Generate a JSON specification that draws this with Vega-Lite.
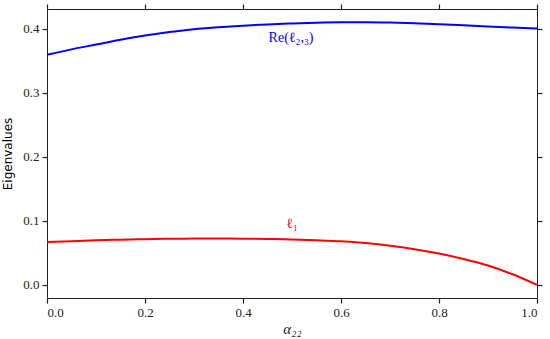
{
  "$schema": "https://vega.github.io/schema/vega-lite/v6.json",
  "width": 490,
  "height": 289,
  "autosize": {"type": "none"},
  "padding": {"left": 47, "top": 9, "right": 13, "bottom": 41},
  "config": {
    "view": {"stroke": "#222222", "strokeWidth": 1}
  },
  "datasets": {
    "curves": [
      {"x": 0.0, "y": 0.359, "s": "re"}, {"x": 0.05, "y": 0.3675, "s": "re"}, {"x": 0.1, "y": 0.375, "s": "re"},
      {"x": 0.15, "y": 0.3825, "s": "re"}, {"x": 0.2, "y": 0.389, "s": "re"}, {"x": 0.25, "y": 0.3945, "s": "re"},
      {"x": 0.3, "y": 0.399, "s": "re"}, {"x": 0.35, "y": 0.402, "s": "re"}, {"x": 0.4, "y": 0.4045, "s": "re"},
      {"x": 0.45, "y": 0.4065, "s": "re"}, {"x": 0.5, "y": 0.408, "s": "re"}, {"x": 0.55, "y": 0.4092, "s": "re"},
      {"x": 0.6, "y": 0.4098, "s": "re"}, {"x": 0.65, "y": 0.4098, "s": "re"}, {"x": 0.7, "y": 0.4093, "s": "re"},
      {"x": 0.75, "y": 0.4083, "s": "re"}, {"x": 0.8, "y": 0.4068, "s": "re"}, {"x": 0.85, "y": 0.405, "s": "re"},
      {"x": 0.9, "y": 0.4032, "s": "re"}, {"x": 0.95, "y": 0.4015, "s": "re"}, {"x": 1.0, "y": 0.4, "s": "re"},
      {"x": 0.0, "y": 0.0667, "s": "l1"}, {"x": 0.05, "y": 0.0682, "s": "l1"}, {"x": 0.1, "y": 0.0695, "s": "l1"},
      {"x": 0.15, "y": 0.0705, "s": "l1"}, {"x": 0.2, "y": 0.0713, "s": "l1"}, {"x": 0.25, "y": 0.0719, "s": "l1"},
      {"x": 0.3, "y": 0.0722, "s": "l1"}, {"x": 0.35, "y": 0.0723, "s": "l1"}, {"x": 0.4, "y": 0.0721, "s": "l1"},
      {"x": 0.45, "y": 0.0716, "s": "l1"}, {"x": 0.5, "y": 0.0708, "s": "l1"}, {"x": 0.55, "y": 0.0696, "s": "l1"},
      {"x": 0.6, "y": 0.068, "s": "l1"}, {"x": 0.65, "y": 0.0652, "s": "l1"}, {"x": 0.7, "y": 0.0612, "s": "l1"},
      {"x": 0.75, "y": 0.0557, "s": "l1"}, {"x": 0.8, "y": 0.0488, "s": "l1"}, {"x": 0.85, "y": 0.0404, "s": "l1"},
      {"x": 0.9, "y": 0.0302, "s": "l1"}, {"x": 0.95, "y": 0.0165, "s": "l1"}, {"x": 1.0, "y": 0.0, "s": "l1"}
    ],
    "txt": [
      {"x": 0.498, "y": 0.3855, "t": "Re(ℓ₂,₃)", "s": "re"},
      {"x": 0.5, "y": 0.095, "t": "ℓ₁", "s": "l1"}
    ]
  },
  "layer": [
    {
      "data": {"name": "curves"},
      "mark": {"type": "line", "strokeWidth": 2, "interpolate": "monotone"},
      "encoding": {
        "x": {"field": "x", "type": "quantitative", "scale": {"domain": [0, 1], "nice": false, "zero": false},
          "axis": {"orient": "bottom", "values": [0, 0.2, 0.4, 0.6, 0.8, 1.0], "format": ".1f",
            "grid": false, "domain": false, "tickColor": "#222222", "tickSize": 5, "tickWidth": 1.2,
            "labelFont": "Liberation Serif", "labelFontSize": 13, "labelColor": "#222222", "labelPadding": 3,
            "title": "α₂₂", "titleFont": "Liberation Serif", "titleFontStyle": "italic", "titleFontWeight": "normal", "titleFontSize": 15, "titlePadding": 2, "titleColor": "#222222"}},
        "y": {"field": "y", "type": "quantitative", "scale": {"domain": [-0.0205, 0.4305], "nice": false, "zero": false},
          "axis": {"orient": "left", "values": [0, 0.1, 0.2, 0.3, 0.4], "format": ".1f",
            "grid": false, "domain": false, "tickColor": "#222222", "tickSize": 5, "tickWidth": 1.2,
            "labelFont": "Liberation Serif", "labelFontSize": 13, "labelColor": "#222222", "labelPadding": 3,
            "title": "Eigenvalues", "titleFont": "DejaVu Sans", "titleFontWeight": "normal", "titleFontSize": 12, "titlePadding": 8, "titleColor": "#000000"}},
        "color": {"field": "s", "type": "nominal", "scale": {"domain": ["re", "l1"], "range": ["#0000ff", "#ff0000"]}, "legend": null}
      }
    },
    {
      "data": {"name": "txt"},
      "mark": {"type": "text", "font": "Liberation Serif", "fontSize": 14, "align": "center", "baseline": "middle"},
      "encoding": {
        "x": {"field": "x", "type": "quantitative",
          "axis": {"orient": "top", "values": [0, 0.2, 0.4, 0.6, 0.8, 1.0], "grid": false, "domain": false, "tickColor": "#222222", "tickSize": 5, "tickWidth": 1.2, "labelOpacity": 0, "title": null}},
        "y": {"field": "y", "type": "quantitative",
          "axis": {"orient": "right", "values": [0, 0.1, 0.2, 0.3, 0.4], "grid": false, "domain": false, "tickColor": "#222222", "tickSize": 5, "tickWidth": 1.2, "labelOpacity": 0, "title": null}},
        "text": {"field": "t"},
        "color": {"field": "s", "type": "nominal", "legend": null}
      }
    }
  ],
  "resolve": {"axis": {"x": "independent", "y": "independent"}}
}
